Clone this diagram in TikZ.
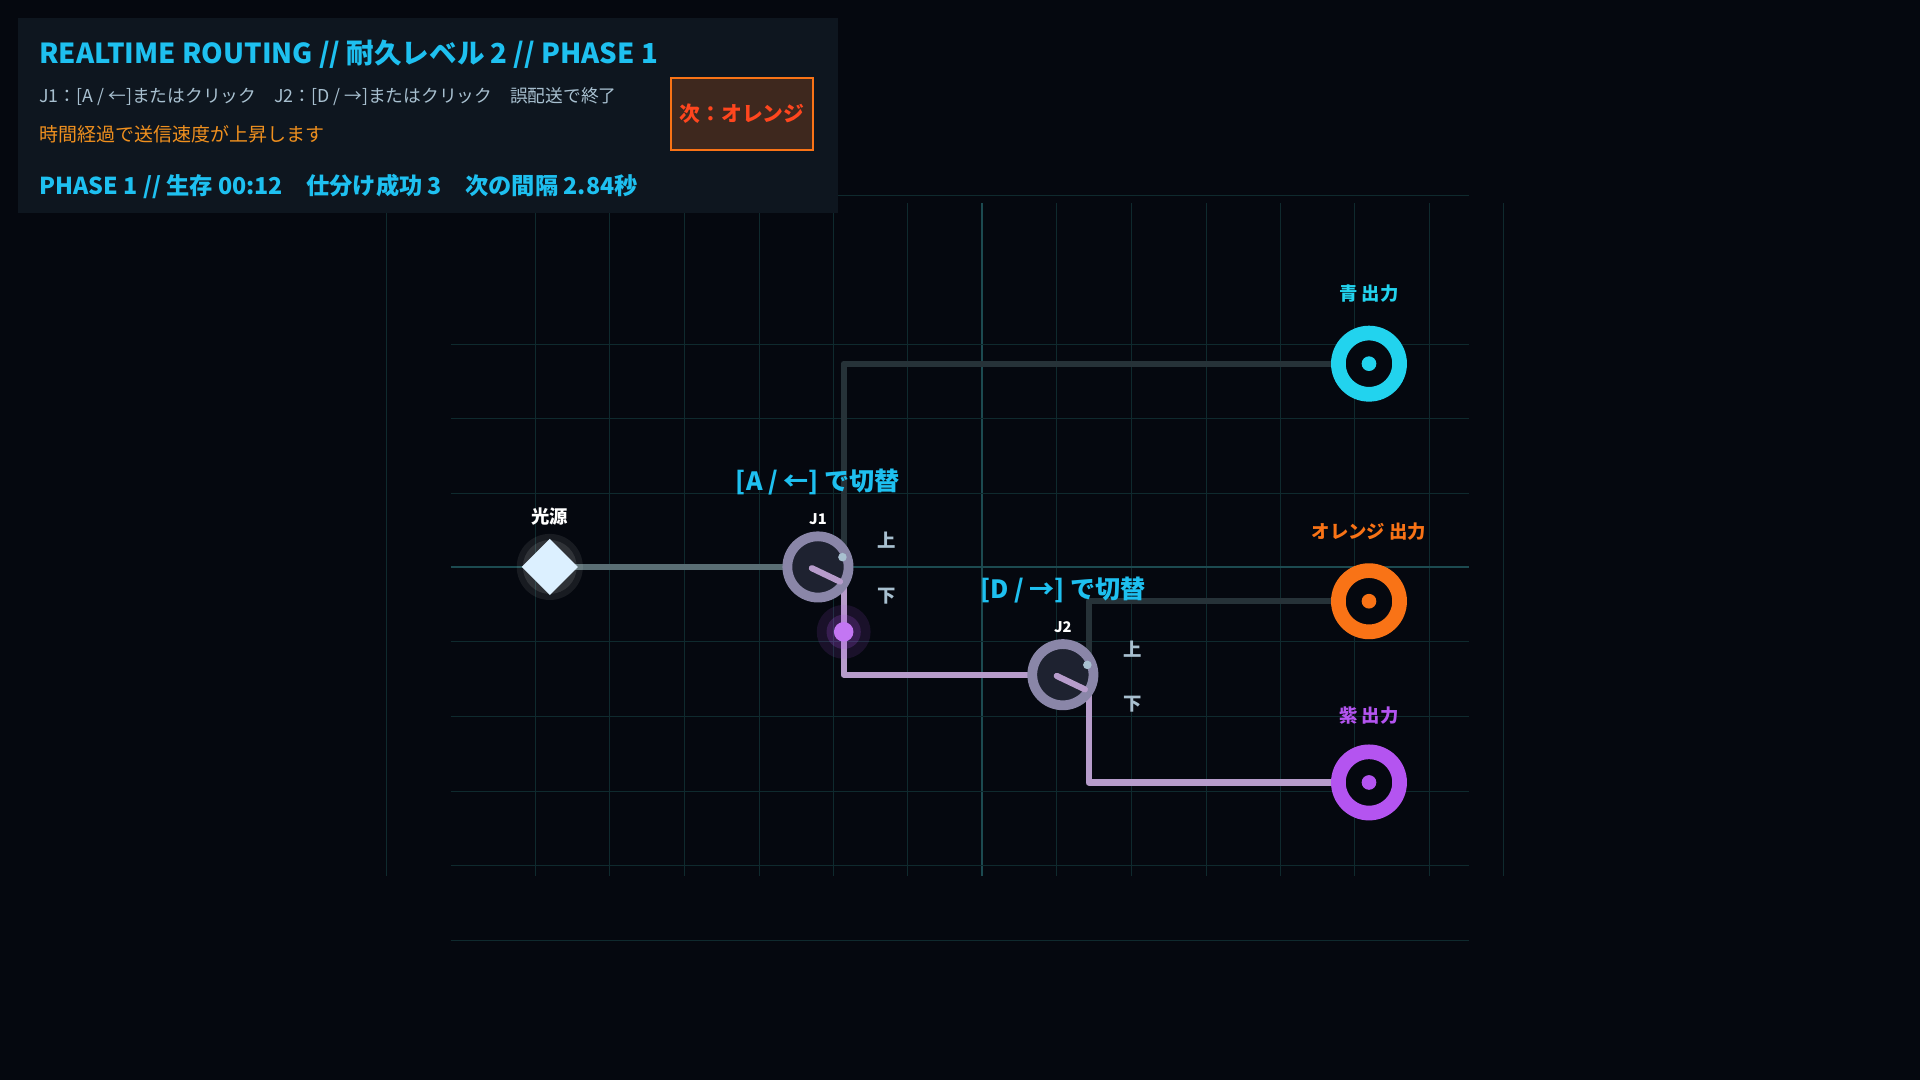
\documentclass[tikz,border=0pt]{standalone}
\usepackage{fontspec}
\setmainfont{Noto Sans CJK JP}
\usetikzlibrary{shapes.geometric}
\definecolor{bg}{HTML}{05080F}
\definecolor{panel}{HTML}{0E161F}
\definecolor{grid}{HTML}{0F2A2E}
\definecolor{gridb}{HTML}{1C4A50}
\definecolor{cyanT}{HTML}{1EC0F0}
\definecolor{sub}{HTML}{A8C0D0}
\definecolor{orT}{HTML}{F0901E}
\definecolor{wire}{HTML}{263238}
\definecolor{wsrc}{HTML}{5A6E74}
\definecolor{purw}{HTML}{B79CCB}
\definecolor{ocyan}{HTML}{22D3EE}
\definecolor{oor}{HTML}{F97316}
\definecolor{opur}{HTML}{B454F0}
\definecolor{jring}{HTML}{8A86A8}
\definecolor{jin}{HTML}{1E2230}
\begin{document}
\begin{tikzpicture}[x=1pt,y=-1pt,
 g/.style={grid,line width=0.8pt},
 w/.style={line width=5pt,line cap=round,line join=round},
 lab/.style={font=\bfseries\fontsize{15}{17}\selectfont,text=sub},
 key/.style={text=cyanT,font=\bfseries\fontsize{20.5}{23}\selectfont},
 outn/.style={circle,minimum size=50pt,line width=12pt,fill=bg,inner sep=0pt},
 jn/.style={circle,minimum size=50pt,draw=jring,line width=8pt,fill=jin,inner sep=0pt}]
\fill[bg] (0,0) rectangle (1568,882);
\useasboundingbox (0,0) rectangle (1568,882);
% grid
\foreach \x in {316,437,498,559,620,681,741,863,924,985,1046,1106,1167,1228}
 \draw[g] (\x,166) -- (\x,715);
\draw[gridb,line width=1pt] (802,166) -- (802,715);
\foreach \y in {160,281,342,403,524,585,646,707,768}
 \draw[g] (368,\y) -- (1200,\y);
\draw[gridb,line width=1pt] (368,463) -- (1200,463);
% panel
\fill[panel] (15,15) rectangle (684,174);
\node[anchor=west,inner sep=0pt,text=cyanT,font=\bfseries\fontsize{22.5}{25}\selectfont] (title) at (32,44) {REALTIME ROUTING // 耐久レベル 2 // PHASE 1};
\node[anchor=west,inner sep=0pt,text=sub,font=\fontsize{14.5}{17}\selectfont] (help) at (32,79) {J1：[A / ←]またはクリック\quad J2：[D / →]またはクリック\quad 誤配送で終了};
\node[anchor=west,inner sep=0pt,text=orT,font=\fontsize{15.5}{18}\selectfont] (speed) at (32,110) {時間経過で送信速度が上昇します};
\node[anchor=west,inner sep=0pt,text=cyanT,font=\bfseries\fontsize{19}{22}\selectfont] (stat) at (32,152) {PHASE 1 // 生存 00:12\quad 仕分け成功 3\quad 次の間隔 2.84秒};
\node[draw=oor,line width=2pt,fill={rgb,255:red,62;green,40;blue,30},minimum width=116pt,minimum height=59pt,text={rgb,255:red,255;green,70;blue,30},font=\bfseries\fontsize{17}{20}\selectfont] (next) at (606,93) {次：オレンジ};
% coordinates
\coordinate (jt) at (689,455);
\coordinate (c1) at (689,297);
\coordinate (c2) at (689,551);
\coordinate (c3) at (889,491);
\coordinate (c4) at (889,639);
% wires
\draw[w,wire] (jt) -- (c1) -- (1100,297);
\draw[w,wire] (889,543) -- (c3) -- (1100,491);
\draw[w,wsrc] (455,463) -- (650,463);
\draw[w,purw] (689,470) -- (c2) -- (850,551);
\draw[w,purw] (889,560) -- (c4) -- (1100,639);
% glow dot
\fill[opur,opacity=0.12] (689,516) circle (22);
\fill[opur,opacity=0.2] (689,516) circle (14);
\fill[opur!80!white] (689,516) circle (8);
% source
\fill[white,opacity=0.08] (449,463) circle (27);
\fill[white,opacity=0.1] (449,463) circle (22);
\node[diamond,fill={rgb,255:red,220;green,240;blue,255},minimum size=46pt,inner sep=0pt] (src) at (449,463) {};
\node[lab,text=white] (srcl) at (449,422) {光源};
% junctions
\node[jn] (j1) at (668,463) {};
\draw[purw,line width=5pt,line cap=round] (663,464) -- (686,475);
\fill[sub] (688,455) circle (3.5);
\node[lab,text=white,font=\bfseries\fontsize{12}{14}\selectfont] (j1l) at (668,424) {J1};
\node[lab] (u1) at (724,441) {上};
\node[lab] (d1) at (724,487) {下};
\node[key] (k1) at (668,394) {[A / ←] で切替};
\node[jn] (j2) at (868,551) {};
\draw[purw,line width=5pt,line cap=round] (863,552) -- (886,563);
\fill[sub] (888,543) circle (3.5);
\node[lab,text=white,font=\bfseries\fontsize{12}{14}\selectfont] (j2l) at (868,512) {J2};
\node[lab] (u2) at (925,530) {上};
\node[lab] (d2) at (925,575) {下};
\node[key] (k2) at (868,482) {[D / →] で切替};
% outputs
\node[outn,draw=ocyan] (ob) at (1118,297) {};
\fill[ocyan] (1118,297) circle (6);
\node[lab,text=ocyan] (obl) at (1118,240) {青 出力};
\node[outn,draw=oor] (oo) at (1118,491) {};
\fill[oor] (1118,491) circle (6);
\node[lab,text=oor] (ool) at (1118,434) {オレンジ 出力};
\node[outn,draw=opur] (op) at (1118,639) {};
\fill[opur] (1118,639) circle (6);
\node[lab,text=opur] (opl) at (1118,584) {紫 出力};
\end{tikzpicture}
\end{document}
